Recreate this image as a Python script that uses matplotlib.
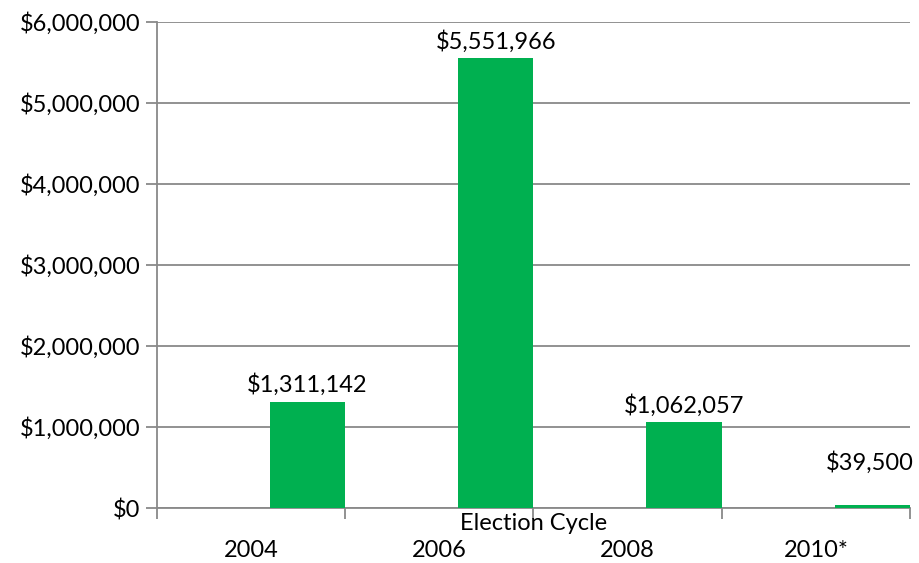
"""Bar chart of spending per election cycle."""

import matplotlib

matplotlib.use("Agg")
import matplotlib.pyplot as plt
from matplotlib.ticker import FuncFormatter, FixedLocator

cycles = ["2004", "2006", "2008", "2010*"]
amounts = [1311142, 5551966, 1062057, 39500]

BAR_GREEN = "#00B050"
GRID_GREY = "#898989"
FS = 17

plt.rcParams["font.family"] = ["Lato", "DejaVu Sans"]

fig = plt.figure(figsize=(9.2, 5.63), dpi=100)
ax = fig.add_axes([157 / 920, 55 / 563, 753 / 920, 486 / 563])

# each cycle takes one unit; the bar sits in the right part of its slot
slots = list(range(len(cycles)))
ax.bar([s + 0.6 for s in slots], amounts, width=0.4, align="edge",
       color=BAR_GREEN, zorder=3)

for s, v in zip(slots, amounts):
    # the tiny 2010 bar gets its label lifted a bit, like the original
    small = v < 200000
    ax.annotate(f"${v:,.0f}", (s + 0.8, v), xytext=(-2 if small else 0, 22 if small else 4),
                textcoords="offset points", ha="center", va="bottom",
                fontsize=FS, color="black")

ax.set_xlim(0, len(cycles))
ax.set_ylim(0, 6000000)
ax.set_yticks(range(0, 6000001, 1000000))
ax.yaxis.set_major_formatter(FuncFormatter(lambda v, _: f"${v:,.0f}"))

ax.xaxis.set_major_locator(FixedLocator([s for s in range(len(cycles) + 1)]))
ax.set_xticklabels([])
ax.xaxis.set_minor_locator(FixedLocator([s + 0.5 for s in slots]))
ax.set_xticklabels(cycles, minor=True)
ax.tick_params(axis="x", which="minor", length=0, pad=23, labelsize=FS)
ax.tick_params(axis="x", which="major", length=8, width=1.3, color=GRID_GREY)
ax.tick_params(axis="y", length=8, width=1.3, color=GRID_GREY, labelsize=FS,
               pad=4)

ax.grid(axis="y", color=GRID_GREY, linewidth=1.3, zorder=0)
for side in ["top", "right"]:
    ax.spines[side].set_visible(False)
for side in ["left", "bottom"]:
    ax.spines[side].set_color(GRID_GREY)
    ax.spines[side].set_linewidth(1.3)

ax.text(0.5, -0.01, "Election Cycle", transform=ax.transAxes, ha="center",
        va="top", fontsize=FS)

fig.savefig("out.png", dpi=100)
